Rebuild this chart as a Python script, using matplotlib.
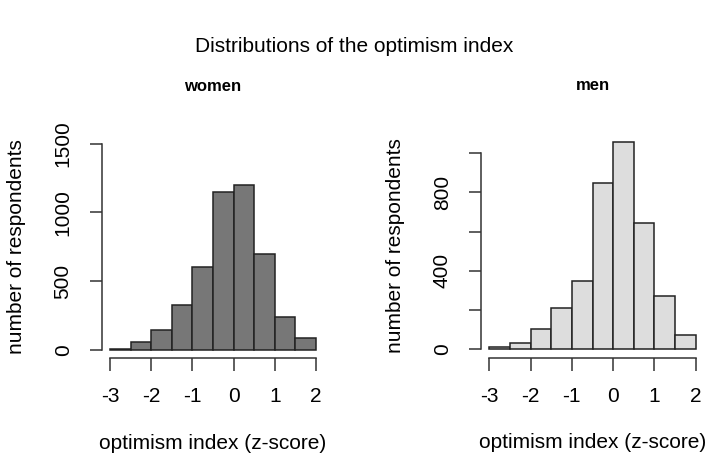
import numpy as np
import matplotlib.pyplot as plt

plt.rcParams['font.family'] = ['Liberation Sans', 'DejaVu Sans']

# histogram bins (z-score) and counts per bin
bin_edges = [-3.0, -2.5, -2.0, -1.5, -1.0, -0.5, 0.0, 0.5, 1.0, 1.5, 2.0]
women_counts = [7, 58, 147, 324, 604, 1147, 1198, 700, 237, 89]
men_counts = [10, 34, 102, 209, 349, 848, 1055, 643, 272, 73]

x_ticks = [-3, -2, -1, 0, 1, 2]
women_yticks = [0, 500, 1000, 1500]
women_ylabels = ['0', '500', '1000', '1500']
men_yticks = [0, 200, 400, 600, 800, 1000]
men_ylabels = ['0', '', '400', '', '800', '']

W, H = 708, 461
fig = plt.figure(figsize=(W / 100, H / 100), dpi=100)


def px_axes(left, right, top, bottom):
    return fig.add_axes([left / W, (H - bottom) / H, (right - left) / W, (bottom - top) / H])


def draw_panel(ax, counts, color, title, yticks, ylabels, ymax):
    edges = np.array(bin_edges)
    ax.bar(edges[:-1], counts, width=0.5, align='edge', color=color,
           edgecolor='#222222', linewidth=1.1)
    ax.set_xlim(-3.2, 2.2)
    ax.set_ylim(-0.04 * ymax, 1.04 * ymax)
    for s in ['top', 'right']:
        ax.spines[s].set_visible(False)
    ax.spines['left'].set_bounds(yticks[0], yticks[-1])
    ax.spines['bottom'].set_bounds(x_ticks[0], x_ticks[-1])
    for s in ['left', 'bottom']:
        ax.spines[s].set_color('#333333')
        ax.spines[s].set_linewidth(1.1)
    ax.set_xticks(x_ticks)
    ax.set_xticklabels([str(t) for t in x_ticks])
    ax.set_yticks(yticks)
    ax.set_yticklabels(ylabels, rotation=90, va='center')
    ax.tick_params(direction='out', length=9, width=1.1, color='#333333',
                   labelsize=15)
    ax.tick_params(axis='x', pad=12)
    ax.tick_params(axis='y', pad=12)
    ax.set_xlabel('optimism index (z-score)', fontsize=15, labelpad=20)
    ax.set_ylabel('number of respondents', fontsize=15, labelpad=20)
    ax.set_title(title, fontsize=12, fontweight='bold', pad=32)


ax1 = px_axes(101.8, 324.2, 135.5, 358.2)
draw_panel(ax1, women_counts, '#777777', 'women', women_yticks, women_ylabels, 1500)

ax2 = px_axes(481, 704, 134, 357.5)
draw_panel(ax2, men_counts, '#dddddd', 'men', men_yticks, men_ylabels, max(men_counts))

fig.suptitle('Distributions of the optimism index', fontsize=15, y=1 - 47 / H, va='center')

plt.savefig('out.png', dpi=100)
